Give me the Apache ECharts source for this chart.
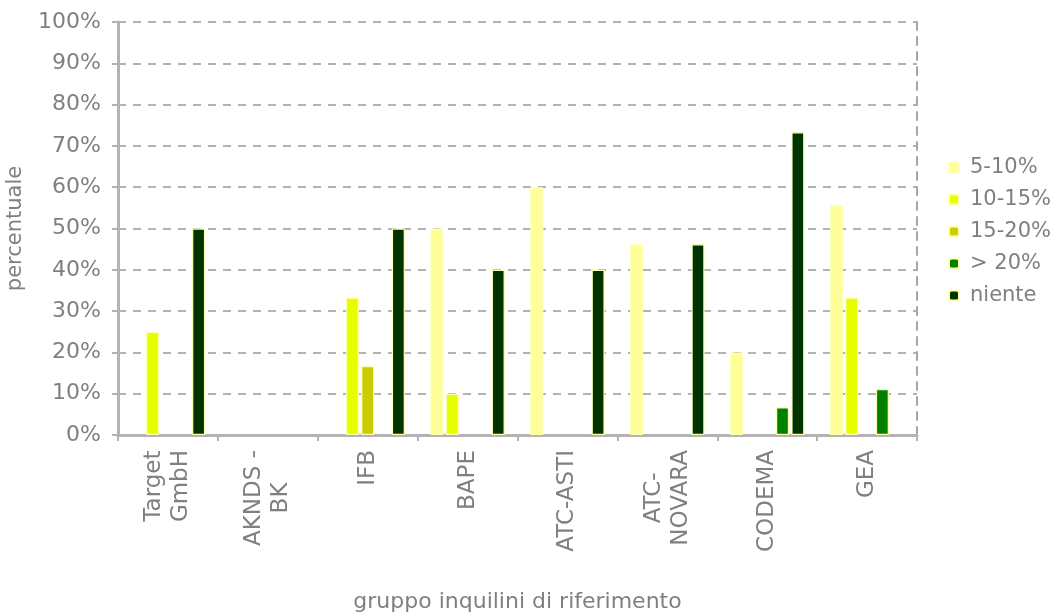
<!DOCTYPE html>
<html>
<head>
<meta charset="utf-8">
<script src="https://cdn.jsdelivr.net/npm/echarts@6/dist/echarts.min.js"></script>
<style>
  html, body { margin: 0; padding: 0; background: #ffffff; }
  #chart { width: 1058px; height: 612px; }
</style>
</head>
<body>
<div id="chart"></div>
<script>
// Tenant reference groups (x axis)
var categories = ['Target\nGmbH', 'AKNDS -\nBK', 'IFB', 'BAPE', 'ATC-ASTI', 'ATC-\nNOVARA', 'CODEMA', 'GEA'];

// Share of answers per band, in percent (null = no bar)
var band5to10  = [null, null, null, 50, 60, 46.2, 20, 55.6];
var band10to15 = [25, null, 33.3, 10, null, null, null, 33.3];
var band15to20 = [null, null, 16.7, null, null, null, null, null];
var bandOver20 = [null, null, null, null, null, null, 6.7, 11.1];
var bandNone   = [50, null, 50, 40, 40, 46.2, 73.3, null];

var seriesNames = ['5-10%', '10-15%', '15-20%', '> 20%', 'niente'];
var seriesData = [band5to10, band10to15, band15to20, bandOver20, bandNone];
var seriesColors = ['#ffff99', '#e6ff00', '#cccc00', '#008000', '#003300'];

var yTicks = { min: 0, max: 100, interval: 10 };

var FONT = 'DejaVu Sans, Verdana, sans-serif';
var GREY = '#808080';

var chart = echarts.init(document.getElementById('chart'), null, { renderer: 'canvas' });

var series = seriesNames.map(function (name, i) {
  return {
    name: name,
    type: 'bar',
    data: seriesData[i],
    barWidth: 13,
    barGap: '18%',
    itemStyle: {
      color: seriesColors[i],
      borderColor: '#ffffb3',
      borderWidth: 1.2
    },
    emphasis: { disabled: true }
  };
});

chart.setOption({
  animation: false,
  backgroundColor: '#ffffff',
  textStyle: { fontFamily: FONT },
  grid: {
    left: 118, right: 141, top: 22, bottom: 177,
    containLabel: false,
    outerBoundsMode: 'none'
  },
  legend: {
    orient: 'vertical',
    left: 943,
    top: 152,
    itemWidth: 10,
    itemHeight: 10,
    itemGap: 11,
    textStyle: { fontFamily: FONT, fontSize: 21, color: GREY, padding: [0, 0, 0, 6] },
    data: seriesNames
  },
  xAxis: {
    type: 'category',
    data: categories,
    name: 'gruppo inquilini di riferimento',
    nameLocation: 'middle',
    nameGap: 156,
    nameTextStyle: { fontFamily: FONT, fontSize: 22, color: GREY },
    axisLine: { lineStyle: { color: '#b3b3b3', width: 3 } },
    axisTick: { show: true, length: 6, lineStyle: { color: '#b3b3b3', width: 2 } },
    axisLabel: {
      rotate: 90,
      margin: 15,
      interval: 0,
      color: GREY,
      fontFamily: FONT,
      fontSize: 23,
      lineHeight: 27,
      formatter: function (v) {
        return v.split('\n').map(function (s) { return '{c|' + s + '}'; }).join('\n');
      },
      rich: {
        c: { align: 'center', fontFamily: FONT, fontSize: 23, lineHeight: 27, color: GREY }
      }
    },
    splitLine: { show: false }
  },
  yAxis: [
    {
      type: 'value',
      min: yTicks.min,
      max: yTicks.max,
      interval: yTicks.interval,
      name: 'percentuale',
      nameLocation: 'middle',
      nameGap: 92,
      nameTextStyle: { fontFamily: FONT, fontSize: 21, color: GREY },
      axisLine: { show: true, lineStyle: { color: '#b3b3b3', width: 3 } },
      axisTick: { show: true, length: 6, lineStyle: { color: '#b3b3b3', width: 2 } },
      axisLabel: {
        margin: 17,
        color: GREY,
        fontFamily: FONT,
        fontSize: 22,
        formatter: '{value}%'
      },
      splitLine: {
        show: true,
        lineStyle: { color: '#999999', width: 1.5, type: [8, 7] }
      }
    },
    {
      type: 'value',
      position: 'right',
      min: yTicks.min,
      max: yTicks.max,
      interval: yTicks.interval,
      axisLine: { show: true, lineStyle: { color: '#a6a6a6', width: 2, type: [8, 7] } },
      axisTick: { show: false },
      axisLabel: { show: false },
      splitLine: { show: false }
    }
  ],
  series: series
});
</script>
</body>
</html>
